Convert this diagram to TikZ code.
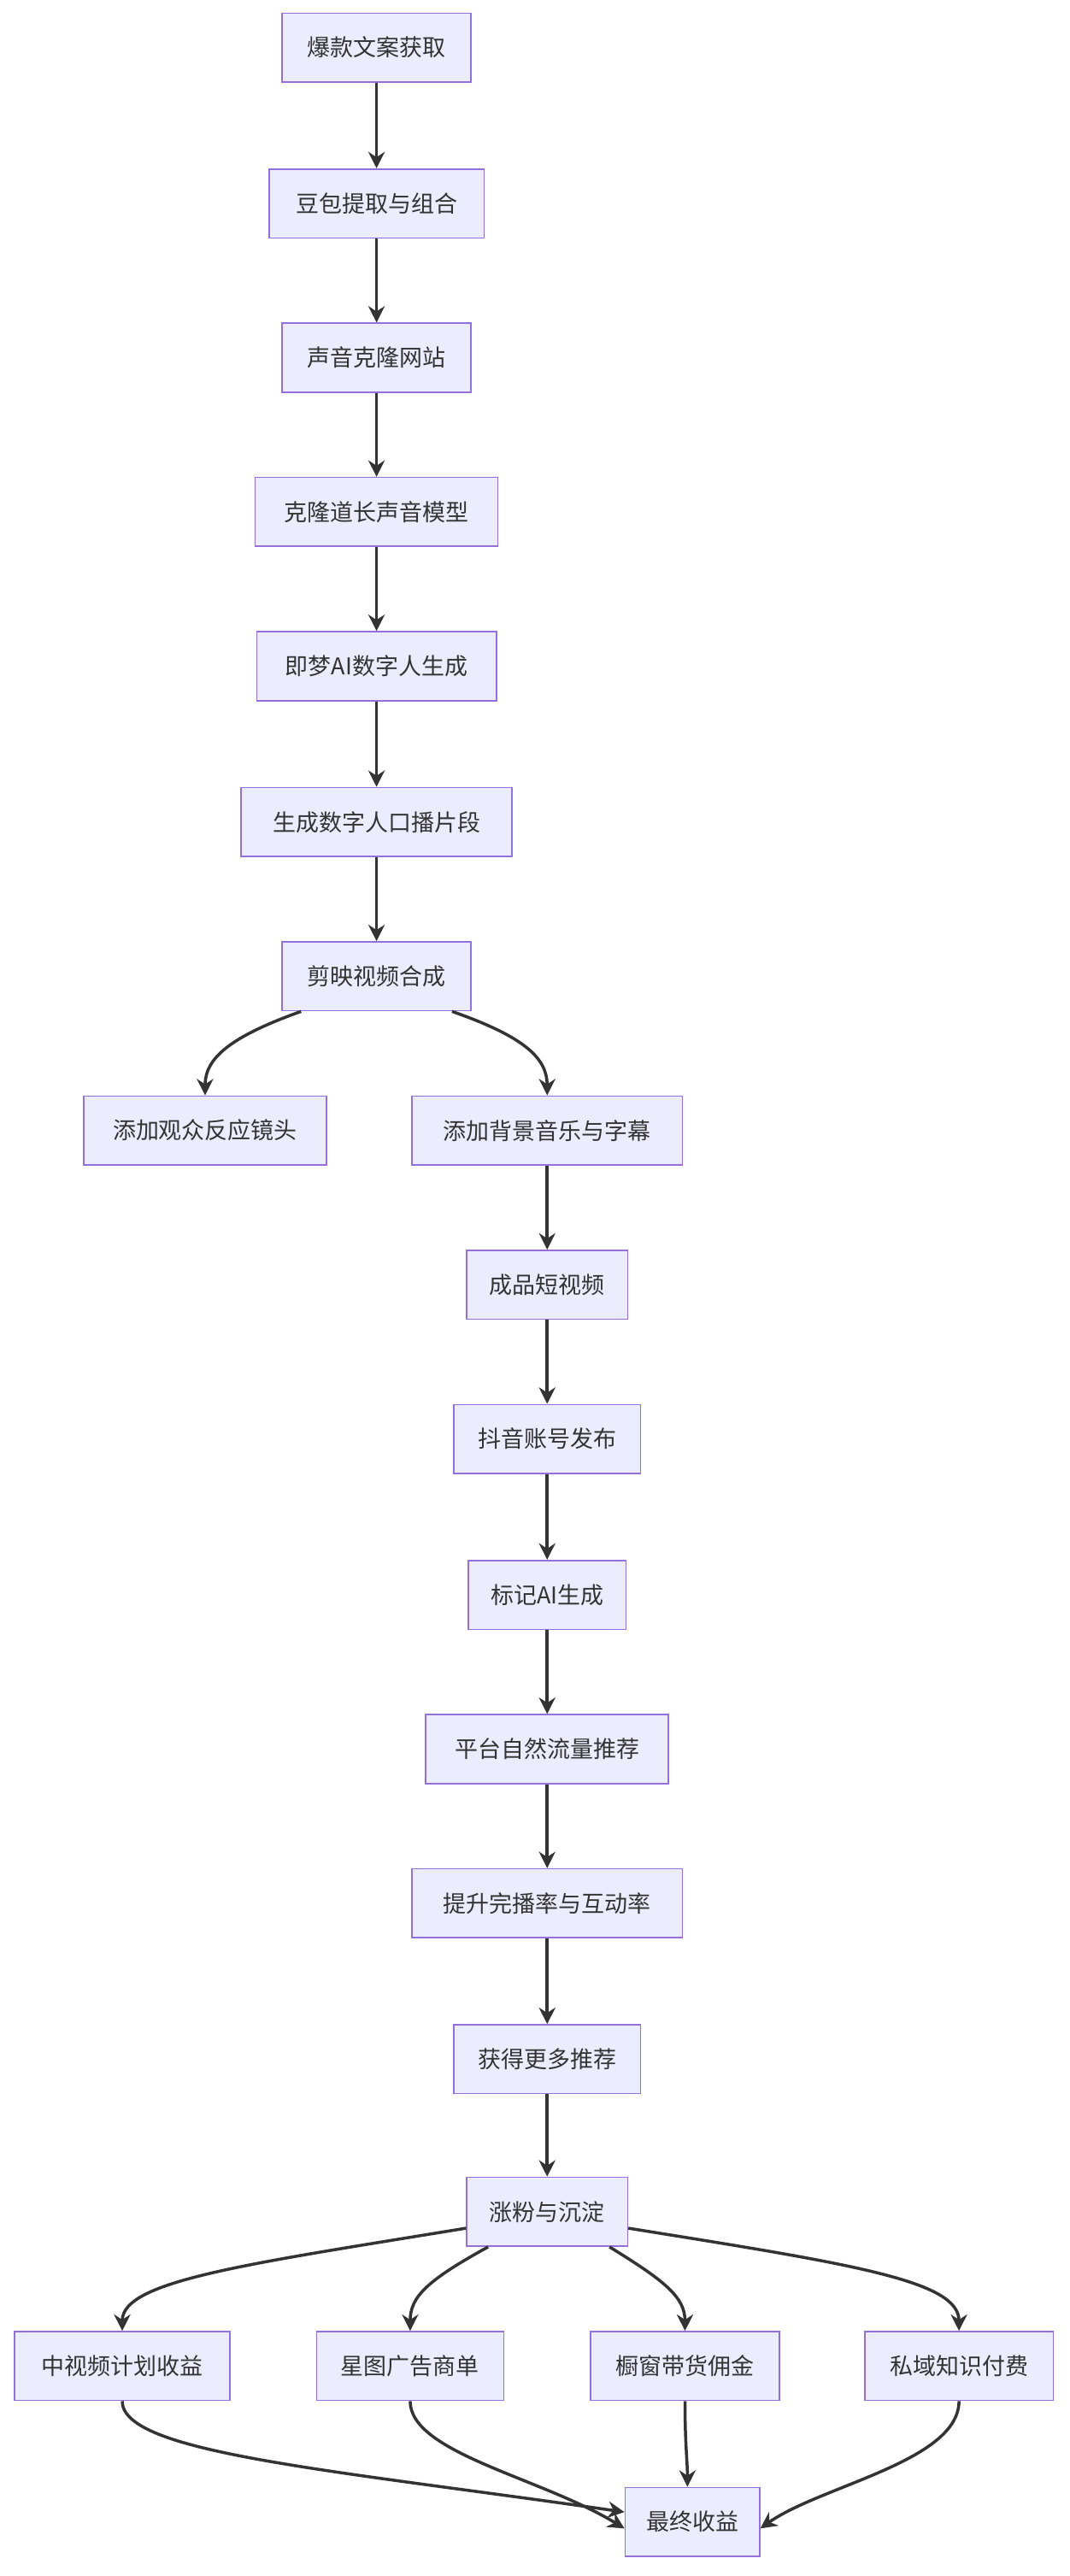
\documentclass[tikz,border=0pt]{standalone}
\usepackage{fontspec}
\newfontfamily\cjk{Noto Sans CJK SC}
\usetikzlibrary{arrows.meta}
\definecolor{boxfill}{HTML}{ECECFF}
\definecolor{boxline}{HTML}{9370DB}
\definecolor{edge}{HTML}{333333}
\begin{document}
\begin{tikzpicture}[x=0.5mm,y=-0.5mm,
  box/.style={draw=boxline,fill=boxfill,line width=1.2pt,minimum height=21mm,inner sep=0pt,font=\cjk\fontsize{20}{24}\selectfont,text=edge},
  arr/.style={draw=edge,line width=2.6pt,-{Stealth[length=5mm,width=5mm]}}]
\useasboundingbox (0,0) rectangle (652,1570);
\node[box,minimum width=57.5mm] (n1) at (229.5,29) {爆款文案获取};
\node[box,minimum width=65.5mm] (n2) at (229.5,124) {豆包提取与组合};
\node[box,minimum width=57.5mm] (n3) at (229.5,218) {声音克隆网站};
\node[box,minimum width=74mm] (n4) at (229.5,312) {克隆道长声音模型};
\node[box,minimum width=73mm] (n5) at (229.5,406) {即梦AI数字人生成};
\node[box,minimum width=82.5mm] (n6) at (229.5,501) {生成数字人口播片段};
\node[box,minimum width=57.5mm] (n7) at (229.5,595) {剪映视频合成};
\node[box,minimum width=74mm] (n8) at (125,689) {添加观众反应镜头};
\node[box,minimum width=82.5mm] (n9) at (333.5,689) {添加背景音乐与字幕};
\node[box,minimum width=49mm] (n10) at (333.5,783) {成品短视频};
\node[box,minimum width=57mm] (n11) at (333.5,877) {抖音账号发布};
\node[box,minimum width=48mm] (n12) at (333.5,972) {标记AI生成};
\node[box,minimum width=74mm] (n13) at (333.5,1066) {平台自然流量推荐};
\node[box,minimum width=82.5mm] (n14) at (333.5,1160) {提升完播率与互动率};
\node[box,minimum width=57mm] (n15) at (333.5,1255) {获得更多推荐};
\node[box,minimum width=49mm] (n16) at (333.5,1348) {涨粉与沉淀};
\node[box,minimum width=65.5mm] (n17) at (74.5,1442) {中视频计划收益};
\node[box,minimum width=57mm] (n18) at (250,1442) {星图广告商单};
\node[box,minimum width=57.5mm] (n19) at (417.5,1442) {橱窗带货佣金};
\node[box,minimum width=57.5mm] (n20) at (584.5,1442) {私域知识付费};
\node[box,minimum width=41mm] (n21) at (422,1537) {最终收益};
\foreach \a/\b in {n1/n2,n2/n3,n3/n4,n4/n5,n5/n6,n6/n7,n9/n10,n10/n11,n11/n12,n12/n13,n13/n14,n14/n15,n15/n16}
  \draw[arr] (\a) -- (\b);
\draw[arr] ([xshift=-23mm]n7.south) .. controls (140,632) and (125,645) .. (n8.north);
\draw[arr] ([xshift=23mm]n7.south) .. controls (320,632) and (333.5,645) .. (n9.north);
\draw[arr] ([yshift=-5mm]n16.west) .. controls (150,1380) and (74.5,1390) .. (n17.north);
\draw[arr] ([xshift=-18mm]n16.south) .. controls (260,1390) and (250,1400) .. (n18.north);
\draw[arr] ([xshift=19mm]n16.south) .. controls (405,1390) and (417.5,1400) .. (n19.north);
\draw[arr] ([yshift=-5mm]n16.east) .. controls (520,1380) and (584.5,1390) .. (n20.north);
\draw[arr] (n17.south) .. controls (74.5,1495) and (200,1505) .. ([yshift=3mm]n21.west);
\draw[arr] (n18.south) .. controls (250,1495) and (330,1510) .. ([yshift=-2mm]n21.west);
\draw[arr] (n19.south) .. controls (417.5,1490) and (419,1500) .. ([xshift=-1.5mm]n21.north);
\draw[arr] (n20.south) .. controls (584.5,1500) and (500,1515) .. ([yshift=-2mm]n21.east);
\end{tikzpicture}
\end{document}
